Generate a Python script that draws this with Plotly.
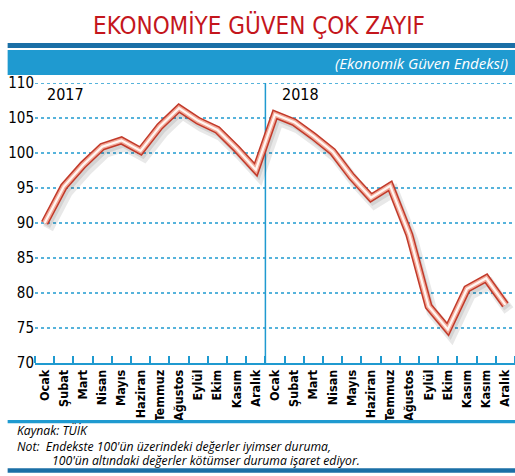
import plotly.graph_objects as go

# Ekonomik Güven Endeksi, aylık (2017 Ocak - 2018 Aralık)
aylar_2017 = ["Ocak", "Şubat", "Mart", "Nisan", "Mayıs", "Haziran", "Temmuz",
              "Ağustos", "Eylül", "Ekim", "Kasım", "Aralık"]
aylar_2018 = ["Ocak", "Şubat", "Mart", "Nisan", "Mayıs", "Haziran", "Temmuz",
              "Ağustos", "Eylül", "Ekim", "Kasım", "Kasım", "Aralık"]
endeks_2017 = [90.0, 95.2, 98.3, 100.9, 101.8, 100.3, 103.8, 106.4, 104.6, 103.3, 100.6, 97.6]
endeks_2018 = [105.5, 104.4, 102.4, 100.2, 96.6, 93.6, 95.3, 88.3, 78.1, 74.8, 80.6, 82.1, 78.3]
y_ticks = [70, 75, 80, 85, 90, 95, 100, 105, 110]

labels = aylar_2017 + aylar_2018
values = endeks_2017 + endeks_2018
xs = list(range(len(labels)))

BLUE = "#1f9ad0"
DARK_BLUE = "#1a6fa6"
RED = "#c23a2a"
NARROW = "DejaVu Sans Condensed, DejaVu Sans, sans-serif"
ITALIC = "Open Sans"

fig = go.Figure()

# soft shadow under the tube line
fig.add_trace(go.Scatter(
    x=[v + 0.18 for v in xs], y=[v - 0.8 for v in values], mode="lines",
    line=dict(color="rgba(0,0,0,0.09)", width=11), hoverinfo="skip", showlegend=False))
fig.add_trace(go.Scatter(
    x=[v + 0.1 for v in xs], y=[v - 0.45 for v in values], mode="lines",
    line=dict(color="rgba(0,0,0,0.09)", width=8), hoverinfo="skip", showlegend=False))

# the tube: red outline, salmon body, white highlight
fig.add_trace(go.Scatter(x=xs, y=values, mode="lines",
                         line=dict(color=RED, width=8), showlegend=False))
fig.add_trace(go.Scatter(x=xs, y=values, mode="lines",
                         line=dict(color="#f2a898", width=5), showlegend=False))
fig.add_trace(go.Scatter(x=xs, y=values, mode="lines",
                         line=dict(color="#fff6f2", width=2.2), showlegend=False))

# dotted grid lines
for v in y_ticks[1:]:
    fig.add_shape(type="line", xref="paper", yref="y", x0=0, x1=1, y0=v, y1=v,
                  line=dict(color=BLUE, width=1.6, dash="dot"), layer="below")

# year divider
split = len(aylar_2017) - 0.5
fig.add_shape(type="line", xref="x", yref="y", x0=split, x1=split,
              y0=y_ticks[0], y1=y_ticks[-1], line=dict(color=BLUE, width=1.5), layer="below")

year_font = dict(family=NARROW, size=16, color="black")
fig.add_annotation(text="2017", x=0.0, y=108.4, xref="x", yref="y", xanchor="left",
                   yanchor="middle", showarrow=False, font=year_font)
fig.add_annotation(text="2018", x=split + 0.75, y=108.4, xref="x", yref="y", xanchor="left",
                   yanchor="middle", showarrow=False, font=year_font)

# header: title, thin bar and blue band with subtitle
fig.add_annotation(text="EKONOMİYE GÜVEN ÇOK ZAYIF", x=0.467, y=1.204, xref="paper",
                   yref="paper", yanchor="middle", showarrow=False,
                   font=dict(family=NARROW, size=24, color="#c4161c"))
fig.add_shape(type="rect", xref="paper", yref="paper", x0=-0.057, x1=1.0, y0=1.125, y1=1.143,
              line=dict(width=0), fillcolor=DARK_BLUE)
fig.add_shape(type="rect", xref="paper", yref="paper", x0=-0.057, x1=1.0, y0=1.029, y1=1.118,
              line=dict(width=0), fillcolor=BLUE)
fig.add_annotation(text="<i>(Ekonomik Güven Endeksi)</i>", x=0.99, y=1.071, xref="paper",
                   yref="paper", xanchor="right", yanchor="middle", showarrow=False,
                   font=dict(family=ITALIC, size=15, color="white"))

# footer
fig.add_shape(type="rect", xref="paper", yref="paper", x0=-0.057, x1=1.0, y0=-0.204, y1=-0.215,
              line=dict(width=0), fillcolor=BLUE)
fig.add_shape(type="rect", xref="paper", yref="paper", x0=-0.057, x1=1.0, y0=-0.376, y1=-0.392,
              line=dict(width=0), fillcolor=DARK_BLUE)
foot = dict(xref="paper", yref="paper", xanchor="left", yanchor="middle", showarrow=False,
            font=dict(family=ITALIC, size=12.2, color="black"))
fig.add_annotation(text="<i>Kaynak: TÜİK</i>", x=-0.042, y=-0.242, **foot)
fig.add_annotation(text="<i>Not:  Endekste 100'ün üzerindeki değerler iyimser duruma,</i>",
                   x=-0.042, y=-0.298, **foot)
fig.add_annotation(text="<i>100'ün altındaki değerler kötümser duruma işaret ediyor.</i>",
                   x=0.031, y=-0.347, **foot)

fig.update_xaxes(
    range=[-0.5, len(labels) - 0.5],
    tickmode="array", tickvals=xs, ticktext=labels, tickangle=-90,
    ticks="", tickfont=dict(family=NARROW, size=12.5, color="black", weight="bold"),
    ticklabeloverflow="allow",
    showgrid=False, zeroline=False,
    showline=True, linecolor=BLUE, linewidth=1.5,
    minor=dict(tickmode="array", tickvals=[v - 0.5 for v in xs] + [len(labels) - 0.5],
               ticks="inside", ticklen=7, tickcolor=BLUE, tickwidth=1.5, showgrid=False),
)
fig.update_yaxes(
    range=[y_ticks[0], y_ticks[-1]], tickmode="array", tickvals=y_ticks,
    tickfont=dict(family=NARROW, size=15, color="black"),
    showgrid=False, zeroline=False, showline=False, ticks="",
)

fig.update_layout(
    width=515, height=476,
    margin=dict(l=35, r=0, t=83, b=113),
    paper_bgcolor="white", plot_bgcolor="white",
    showlegend=False,
)

# drop the page's default body margin so the figure fills the window exactly
fig.write_html("out.html", config={"displayModeBar": False},
               post_script="document.body.style.margin='0';document.body.style.overflow='hidden';")
